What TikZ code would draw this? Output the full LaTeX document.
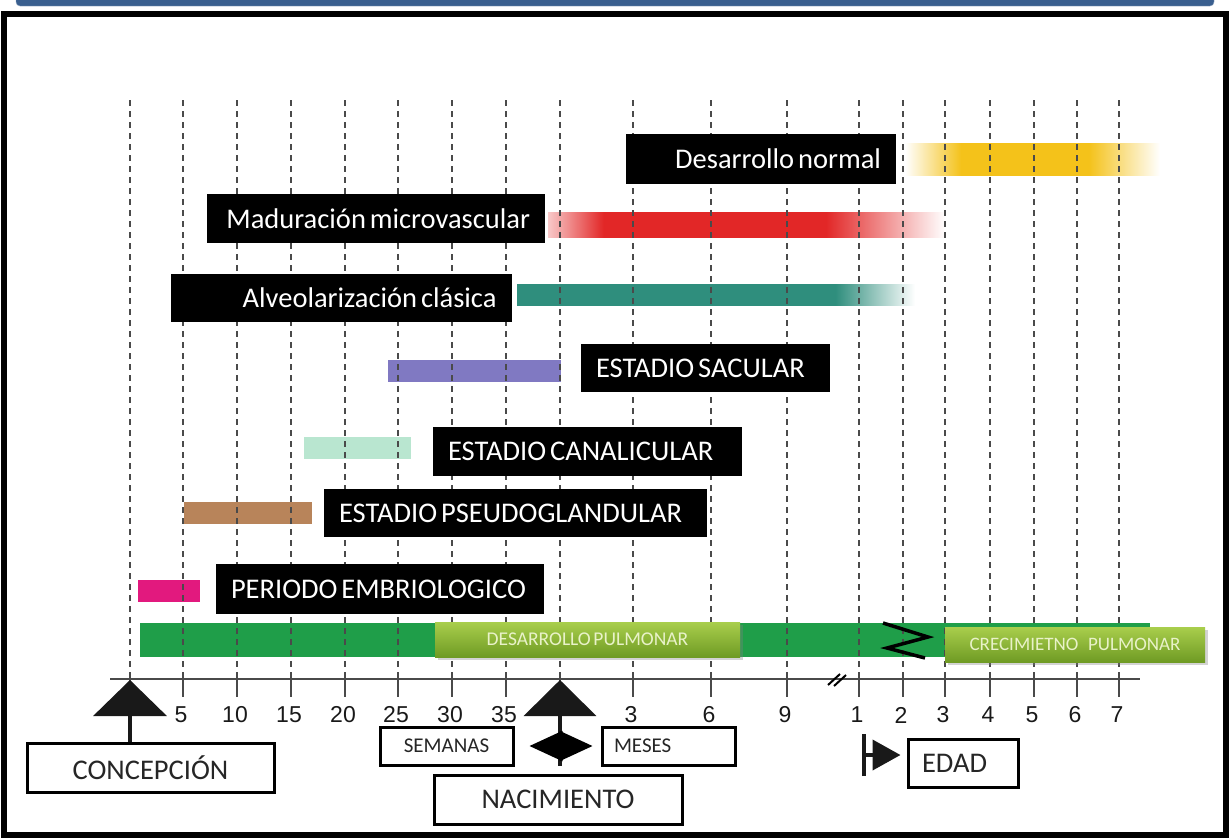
\documentclass[tikz,border=0pt]{standalone}
\usepackage{fontspec}
\setmainfont{Carlito}[WordSpace=0.6]
\newfontfamily\numfont{Liberation Sans}
\usetikzlibrary{arrows.meta,shadows}
\definecolor{headblue}{HTML}{3A5F8F}
\definecolor{gridgray}{HTML}{4A4A4A}
\definecolor{lunggreen}{HTML}{1F9E49}
\definecolor{olivetop}{HTML}{A9CE4C}
\definecolor{olivebot}{HTML}{6F9B24}
\definecolor{olivetext}{HTML}{E9F2C9}
\definecolor{normyellow}{HTML}{F4C21A}
\definecolor{microred}{HTML}{E22727}
\definecolor{alvteal}{HTML}{2F8E7D}
\definecolor{sacpurple}{HTML}{8079C2}
\definecolor{canmint}{HTML}{B9E6D0}
\definecolor{pseubrown}{HTML}{B8845A}
\definecolor{embpink}{HTML}{E2197E}
% fading bars (path spans 25bp..75bp)
\pgfdeclarehorizontalshading{normalfade}{100bp}{color(0bp)=(white); color(25bp)=(white);
  color(36bp)=(normyellow); color(61bp)=(normyellow); color(75bp)=(white); color(100bp)=(white)}
\pgfdeclarehorizontalshading{microfade}{100bp}{color(0bp)=(microred!25); color(25bp)=(microred!25);
  color(32bp)=(microred); color(60bp)=(microred); color(75bp)=(white); color(100bp)=(white)}
\pgfdeclarehorizontalshading{alveofade}{100bp}{color(0bp)=(alvteal); color(25bp)=(alvteal);
  color(65bp)=(alvteal); color(75bp)=(white); color(100bp)=(white)}
\tikzset{
  stage/.style={fill=black, text=white, inner xsep=15pt, inner ysep=0pt,
    font=\fontsize{28.5}{32}\selectfont},
  growth/.style={top color=olivetop, bottom color=olivebot, text=olivetext,
    inner sep=0pt, font=\fontsize{19.5}{22}\selectfont,
    drop shadow={shadow xshift=3pt, shadow yshift=-3pt, opacity=.35}},
  wbox/.style={draw=black, line width=3pt, fill=white, text=black!85,
    inner ysep=0pt, font=\fontsize{28.5}{32}\selectfont},
  unitbox/.style={wbox, font=\fontsize{21}{24}\selectfont},
  gridline/.style={gridgray, line width=1.6pt, dash pattern=on 6pt off 5pt},
  stem/.style={line width=4pt, black!90},
}
\begin{document}
\begin{tikzpicture}[x=1pt,y=-1pt]
\useasboundingbox (0,0) rectangle (1230,838);
% frame
\fill[headblue, draw=headblue!60!white, rounded corners=4pt] (16,-6) rectangle (1214,6);
\draw[line width=6pt] (3.5,13.5) rectangle (1226,834.5);

% coloured bars
\fill[lunggreen] (140,623) rectangle (1150,657);
\shade[shading=normalfade] (905,143) rectangle (1160,175);
\shade[shading=microfade] (548,212) rectangle (945,237);
\shade[shading=alveofade] (517,284) rectangle (915,305);
\fill[sacpurple] (388,360) rectangle (561,382);
\fill[canmint] (304,437) rectangle (411,459);
\fill[pseubrown] (184,502) rectangle (312,524);
\fill[embpink] (138,580) rectangle (200,602);

% grid and axis
\foreach \x in {130,183,237,291,345,398,452,506,560,633,711,787,859,903,945,990,1034,1077,1119}
  \draw[gridline] (\x,100) -- (\x,679);
\draw[gridgray, line width=2.5pt] (110,679) -- (1140,679);
\foreach \x/\t in {130/,183/5,237/10,291/15,345/20,398/25,452/30,506/35,560/,
    633/3,711/6,787/9,859/1,903/2,945/3,990/4,1034/5,1077/6,1119/7} {
  \draw[gridgray, line width=2.5pt] (\x,679) -- (\x,697);
  \node[text=black!90, font=\numfont\fontsize{23}{25}\selectfont] at (\x-2,715) {\t};
}
\draw[line width=2pt] (828,685) -- (840,674) (834,686) -- (846,675);
\draw[line width=3.5pt, line join=miter] (883,623) -- (928,637) -- (887,648) -- (925,658);

% stages
\node[stage, minimum height=50pt, text width=240pt, align=flush right] (normal) at (761,159) {Desarrollo normal};
\node[stage, minimum height=49pt, text width=308pt, align=flush right] (micro) at (376,218.5) {Maduración microvascular};
\node[stage, minimum height=48pt, text width=311pt, align=flush right] (alveo) at (341,298) {Alveolarización clásica};
\node[stage, minimum height=48pt, text width=219pt, align=flush left] (sacul) at (705.5,368) {ESTADIO SACULAR};
\node[stage, minimum height=49pt, text width=279pt, align=flush left] (canal) at (587.5,451.5) {ESTADIO CANALICULAR};
\node[stage, minimum height=48pt, text width=353pt, align=flush left] (pseudo) at (515.5,513) {ESTADIO PSEUDOGLANDULAR};
\node[stage, minimum height=50pt, text width=298pt, align=flush left] (embrio) at (380,589) {PERIODO EMBRIOLOGICO};

\node[growth, minimum width=305pt, minimum height=35pt] (desar) at (587.5,639.5) {DESARROLLO PULMONAR};
\node[growth, minimum width=260pt, minimum height=35pt, font=\fontsize{19}{22}\selectfont] (crec) at (1075,644.5) {CRECIMIETNO\hspace{7pt} PULMONAR};

% bottom labels
\node[wbox, minimum width=247pt, minimum height=49pt] (concep) at (150.5,767.5) {CONCEPCIÓN};
\node[unitbox, minimum width=133pt, minimum height=38pt] (sem) at (446.5,746) {SEMANAS};
\node[wbox, minimum width=248pt, minimum height=49pt] (nac) at (558,799.5) {NACIMIENTO};
\node[unitbox, minimum width=133pt, minimum height=38pt, inner xsep=12pt, text width=109pt, align=flush left] (mes) at (668.5,746) {MESES};
\node[wbox, minimum width=110pt, minimum height=48pt, inner xsep=14pt, text width=82pt, align=flush left] (edad) at (963,763) {EDAD};

% arrows
\coordinate (conc0) at (130,680);
\coordinate (birth0) at (560,680);
\coordinate (age0) at (862,755);
\draw[stem, -{Triangle[width=73pt,length=36pt]}] (concep.north -| conc0) -- (conc0);
\draw[stem, -{Triangle[width=72pt,length=36pt]}] ([xshift=2pt,yshift=8pt]nac.north) -- (birth0);
\draw[line width=2pt, shorten <=15pt, shorten >=8pt,
  {Triangle[width=30pt,length=33pt]}-{Triangle[width=30pt,length=33pt]}] (sem.east) -- (mes.west);
\draw[stem, shorten >=6pt, {Bar[width=42pt]}-{Triangle[width=30pt,length=28pt]}] (age0) -- (age0 -| edad.west);
\end{tikzpicture}
\end{document}
